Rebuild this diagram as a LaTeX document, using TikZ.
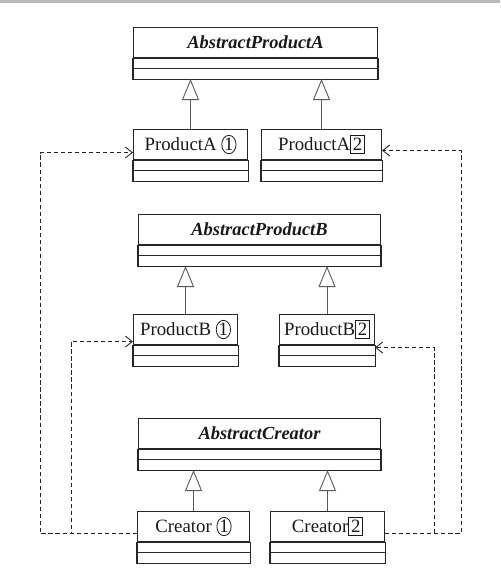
\documentclass[tikz,border=0pt]{standalone}
\usepackage{fontspec}
\setmainfont{Liberation Serif}
\usetikzlibrary{arrows.meta,shapes.geometric}

% little marks behind the class names
\newcommand{\circnum}[1]{\tikz[baseline=(m.base)]\node[ellipse,draw,anchor=center,inner xsep=0.2pt,inner ysep=0.4pt,minimum width=0pt,minimum height=0pt,text height=6.6pt,text depth=0pt,line width=0.45pt] (m) {#1};}
\newcommand{\boxnum}[1]{\tikz[baseline=(m.base)]\node[rectangle,draw,anchor=center,inner xsep=1.3pt,inner ysep=1.2pt,minimum width=0pt,minimum height=0pt,text height=7.2pt,text depth=0.4pt,line width=0.45pt] (m) {#1};}

\tikzset{
  classbox/.style={draw=black!85,line width=0.6pt,anchor=north west,minimum height=0.6cm,inner sep=0pt,text=black!90,font=\fontsize{10.7}{12}\selectfont},
  abstractbox/.style={classbox,font=\fontsize{10.5}{12}\selectfont\bfseries\itshape},
  inherit/.style={draw=black!65,line width=0.5pt,-{Triangle[open,length=0.42cm,width=0.34cm]}},
  depend/.style={draw=black!85,line width=0.5pt,dash pattern=on 2.4pt off 1.6pt,-{Straight Barb[length=0.14cm,width=0.22cm]}}
}

\begin{document}
\begin{tikzpicture}[x=0.02cm,y=-0.02cm]
\useasboundingbox (0,0) rectangle (500,581);
\fill[gray!55] (0,0) rectangle (500,3);

% products A
\node[abstractbox,minimum width=4.88cm] (absA) at (133,27) {AbstractProductA};
\node[classbox,minimum width=2.28cm] (pA1) at (133,129) {ProductA \circnum{1}};
\node[classbox,minimum width=2.4cm] (pA2) at (261,129) {ProductA\boxnum{2}};

% products B
\node[abstractbox,minimum width=4.84cm] (absB) at (138,214) {AbstractProductB};
\node[classbox,minimum width=2.08cm] (pB1) at (133,314) {ProductB \circnum{1}};
\node[classbox,minimum width=1.9cm] (pB2) at (279,314) {ProductB\boxnum{2}};

% creators
\node[abstractbox,minimum width=4.84cm] (absC) at (138,418) {AbstractCreator};
\node[classbox,minimum width=2.24cm] (cr1) at (137,511) {Creator \circnum{1}};
\node[classbox,minimum width=2.28cm] (cr2) at (270,511) {Creator\boxnum{2}};

% empty compartments
\foreach \c in {absA,pA1,pA2,absB,pB1,pB2,absC,cr1,cr2}{
  \draw[draw=black!85,line width=0.6pt] (\c.south west) rectangle ([yshift=-0.21cm]\c.south east);
  \draw[draw=black!85,line width=0.6pt] ([yshift=-0.21cm]\c.south west) rectangle ([yshift=-0.42cm]\c.south east);
  \coordinate (\c-bot) at ([yshift=-0.42cm]\c.south);
}

% inheritance
\draw[inherit] (pA1.north) -- (pA1.north |- absA-bot);
\draw[inherit] (pA2.north) -- (pA2.north |- absA-bot);
\draw[inherit] (pB1.north) -- (pB1.north |- absB-bot);
\draw[inherit] (pB2.north) -- (pB2.north |- absB-bot);
\draw[inherit] (cr1.north) -- (cr1.north |- absC-bot);
\draw[inherit] (cr2.north) -- (cr2.north |- absC-bot);

% dependencies
\coordinate (la) at (40,0);
\coordinate (lb) at (71,0);
\coordinate (ra) at (461,0);
\coordinate (rb) at (434,0);
\coordinate (c1w) at ([yshift=-0.14cm]cr1.west);
\coordinate (c2e) at ([yshift=-0.14cm]cr2.east);
\coordinate (a1w) at ([yshift=-0.16cm]pA1.west);
\coordinate (a2e) at ([yshift=-0.12cm]pA2.east);
\coordinate (b1w) at ([yshift=-0.24cm]pB1.west);
\coordinate (b2e) at ([yshift=-0.36cm]pB2.east);

\draw[depend] (c1w) -- (c1w -| la) |- (a1w);
\draw[depend] (c1w) -- (c1w -| lb) |- (b1w);
\draw[depend] (c2e) -- (c2e -| ra) |- (a2e);
\draw[depend] (c2e) -- (c2e -| rb) |- (b2e);
\end{tikzpicture}
\end{document}
